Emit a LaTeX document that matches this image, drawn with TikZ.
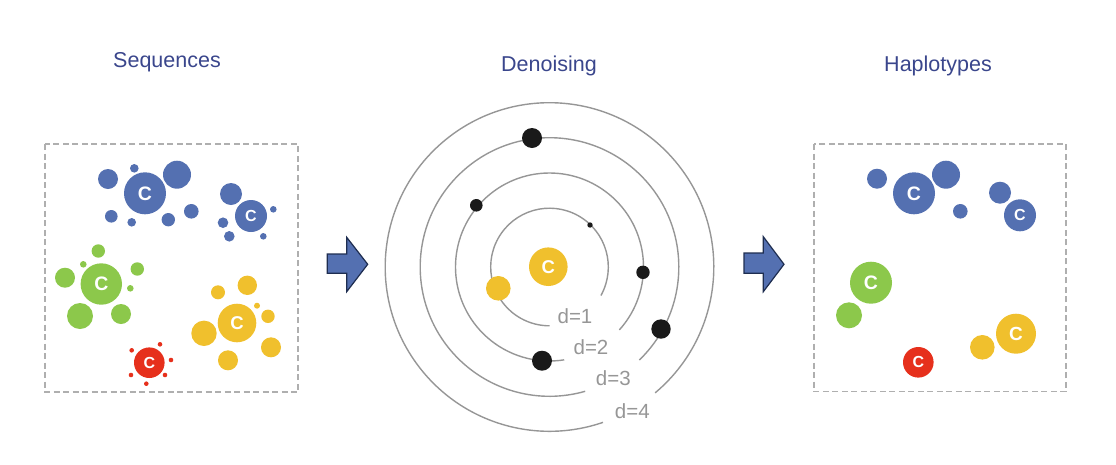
\documentclass[tikz,border=0pt]{standalone}
\usepackage{fontspec}
\setmainfont{Liberation Sans}
\definecolor{cblue}{RGB}{84,112,177}
\definecolor{cgreen}{RGB}{140,200,75}
\definecolor{cyellow}{RGB}{240,192,45}
\definecolor{cred}{RGB}{230,48,28}
\definecolor{cdot}{RGB}{26,26,26}
\definecolor{ring}{RGB}{150,150,150}
\definecolor{boxgray}{RGB}{175,175,175}
\definecolor{title}{RGB}{58,70,140}
\definecolor{arrfill}{RGB}{84,112,177}
\definecolor{arrline}{RGB}{30,45,80}
\tikzset{
  bub/.style={circle,inner sep=0pt,draw=none},
  ctext/.style={text=white},
  panel/.style={draw=boxgray,line width=1.5pt,dash pattern=on 6pt off 3.5pt},
  ringline/.style={draw=ring,line width=1.4pt},
  ttl/.style={text=title,font=\fontsize{21.5}{24}\selectfont},
  dlab/.style={text=ring,font=\fontsize{20.5}{23}\selectfont},
  blockarrow/.style={fill=arrfill,draw=arrline,line width=1.2pt,line join=miter}
}
\newcommand\bb[5]{\node[bub,fill=#5,minimum size=2*#4pt] (#1) at (#2,#3) {};}
\newcommand\cc[6]{\node[bub,fill=#5,minimum size=2*#4pt,ctext,font=\fontsize{#6}{#6}\selectfont\bfseries] (#1) at (#2,#3) {C};}
\begin{document}
\begin{tikzpicture}[x=1pt,y=-1pt]
\path[use as bounding box] (0,0) rectangle (1116,464);

% titles
\node[ttl] (t1) at (167,62) {Sequences};
\node[ttl] (t2) at (549,66) {Denoising};
\node[ttl] (t3) at (938,66) {Haplotypes};

% left panel
\draw[panel] (45,144) rectangle (298,392);
\bb{b1a}{108}{179}{10}{cblue}
\bb{b1b}{134.3}{168.3}{4.3}{cblue}
\bb{b1c}{177}{174.7}{14}{cblue}
\bb{b1d}{111.3}{216.3}{6.3}{cblue}
\bb{b1e}{131.7}{222.3}{4.3}{cblue}
\bb{b1f}{168.3}{219.7}{6.7}{cblue}
\bb{b1g}{191.3}{211.3}{7.3}{cblue}
\cc{b1C}{145}{193.3}{21}{cblue}{19.5}
\bb{b2a}{231}{194}{11}{cblue}
\bb{b2b}{223}{222.7}{5.3}{cblue}
\bb{b2c}{229.3}{236.3}{5.3}{cblue}
\bb{b2d}{273.3}{209.3}{3.3}{cblue}
\bb{b2e}{263.3}{236.3}{3.3}{cblue}
\cc{b2C}{251}{216}{16}{cblue}{16}
\bb{ga}{98.3}{251}{6.7}{cgreen}
\bb{gb}{83.3}{264.3}{3.3}{cgreen}
\bb{gc}{65}{277.7}{10}{cgreen}
\bb{gd}{137.3}{269}{6.7}{cgreen}
\bb{ge}{130.3}{288.3}{3.3}{cgreen}
\bb{gf}{80}{316}{13}{cgreen}
\bb{gg}{121}{314}{10}{cgreen}
\cc{gC}{101.3}{284}{20.7}{cgreen}{19.5}
\bb{ya}{218}{292.3}{7}{cyellow}
\bb{yb}{247.3}{285.3}{9.7}{cyellow}
\bb{yc}{257}{305.7}{3}{cyellow}
\bb{yd}{268}{316.3}{6.7}{cyellow}
\bb{ye}{204}{333.3}{12.7}{cyellow}
\bb{yf}{271}{347.3}{10}{cyellow}
\bb{yg}{228}{360.3}{10}{cyellow}
\cc{yC}{237}{323}{19.3}{cyellow}{18.5}
\bb{ra}{160}{344.3}{2.3}{cred}
\bb{rb}{131.7}{350.3}{2.3}{cred}
\bb{rc}{171}{360}{2.3}{cred}
\bb{rd}{131}{375}{2.3}{cred}
\bb{re}{165}{375}{2.3}{cred}
\bb{rf}{146.3}{383.7}{2.3}{cred}
\cc{rC}{149.3}{362.7}{15.3}{cred}{16}

% arrows
\draw[blockarrow] (327.3,254) -- (346.7,254) -- (346.7,237.3) -- (367.7,264.3) -- (346.7,291.7) -- (346.7,273.3) -- (327.3,273.3) -- cycle;
\draw[blockarrow] (744,253) -- (763.3,253) -- (763.3,236.7) -- (784,264.3) -- (763.3,291.7) -- (763.3,273.3) -- (744,273.3) -- cycle;

% center rings
\coordinate (O) at (549.5,267);
\draw[ringline] (O) ++(29:58.8) arc[start angle=29,end angle=-270,radius=58.8];
\draw[ringline] (O) ++(42:94) arc[start angle=42,end angle=-279,radius=94];
\draw[ringline] (O) ++(46:129.3) arc[start angle=46,end angle=-286,radius=129.3];
\draw[ringline] (O) ++(50:164.3) arc[start angle=50,end angle=-289,radius=164.3];
\node[dlab] (d1) at (575,316) {d=1};
\node[dlab] (d2) at (591,346.7) {d=2};
\node[dlab] (d3) at (613.3,377.7) {d=3};
\node[dlab] (d4) at (632.3,411) {d=4};
\bb{k1}{532}{138}{10}{cdot}
\bb{k2}{476.3}{205.3}{6.3}{cdot}
\bb{k3}{590}{225}{2.7}{cdot}
\bb{k4}{643}{272.3}{6.7}{cdot}
\bb{k5}{661}{329}{9.7}{cdot}
\bb{k6}{542}{360.7}{10}{cdot}
\bb{my}{498.3}{288.3}{12.3}{cyellow}
\cc{mC}{548.3}{266.7}{19.3}{cyellow}{18.5}

% right panel
\draw[panel] (814,144) rectangle (1066,391.7);
\bb{h1a}{877}{178.7}{10}{cblue}
\bb{h1b}{946}{174.7}{14}{cblue}
\bb{h1c}{960.3}{211.3}{7.3}{cblue}
\cc{h1C}{914}{193.3}{21}{cblue}{19.5}
\bb{h2a}{1000}{192.7}{11}{cblue}
\cc{h2C}{1020}{215.3}{16}{cblue}{16}
\bb{hga}{849}{315.3}{13}{cgreen}
\cc{hgC}{871}{282.7}{21}{cgreen}{19.5}
\bb{hya}{982.3}{347.3}{12.3}{cyellow}
\cc{hyC}{1016}{333.7}{20}{cyellow}{19}
\cc{hrC}{918.3}{362.3}{15.3}{cred}{16}
\end{tikzpicture}
\end{document}
